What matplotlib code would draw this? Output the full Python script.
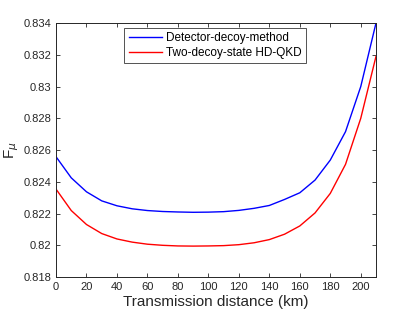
import matplotlib
matplotlib.use("Agg")
import matplotlib.pyplot as plt

distance = [0, 10, 20, 30, 40, 50, 60, 70, 80, 90, 100, 110, 120, 130, 140,
            150, 160, 170, 180, 190, 200, 210]
detector_decoy = [0.82558, 0.82425, 0.82337, 0.82280, 0.82249, 0.82230, 0.82219,
                  0.82213, 0.82210, 0.82208, 0.82209, 0.82212, 0.82220, 0.82233,
                  0.82251, 0.82289, 0.82331, 0.82411, 0.82537, 0.82716, 0.83000,
                  0.83400]
two_decoy = [0.82354, 0.82219, 0.82131, 0.82074, 0.82040, 0.82020, 0.82007,
             0.82000, 0.81996, 0.81995, 0.81996, 0.81998, 0.82004, 0.82016,
             0.82036, 0.82070, 0.82122, 0.82204, 0.82327, 0.82510, 0.82800,
             0.83190]
xticks = [0, 20, 40, 60, 80, 100, 120, 140, 160, 180, 200]
yticks = [0.818, 0.82, 0.822, 0.824, 0.826, 0.828, 0.83, 0.832, 0.834]
ytick_labels = ["0.818", "0.82", "0.822", "0.824", "0.826", "0.828", "0.83", "0.832", "0.834"]

plt.rcParams['font.family'] = ['Liberation Sans', 'DejaVu Sans']
fig = plt.figure(figsize=(4.15, 3.12), dpi=100)
ax = fig.add_axes([0.135, 0.112, 0.771, 0.814])

ax.plot(distance, detector_decoy, color='#0000ff', lw=1.0, label='Detector-decoy-method')
ax.plot(distance, two_decoy, color='#ff0000', lw=1.0, label='Two-decoy-state HD-QKD')

ax.set_xlim(0, 210)
ax.set_ylim(0.818, 0.834)
ax.set_xticks(xticks)
ax.set_yticks(yticks)
ax.set_yticklabels(ytick_labels)
ax.tick_params(direction='in', top=True, right=True, labelsize=8, colors='#262626',
               length=3, width=0.6)
for s in ax.spines.values():
    s.set_color('#262626')
    s.set_linewidth(0.7)

ax.set_xlabel('Transmission distance (km)', fontsize=11, color='#262626', labelpad=2)
ax.set_ylabel(r'F$_{\mu}$', fontsize=11, color='#262626', labelpad=2)

leg = ax.legend(loc='upper center', bbox_to_anchor=(0.4975, 0.980), fontsize=8.5,
                frameon=True, fancybox=False, edgecolor='#262626', handlelength=2.8,
                borderpad=0.35, labelspacing=0.25, handletextpad=0.4, borderaxespad=0.0)
leg.get_frame().set_linewidth(0.7)

fig.savefig('out.png', dpi=100)
